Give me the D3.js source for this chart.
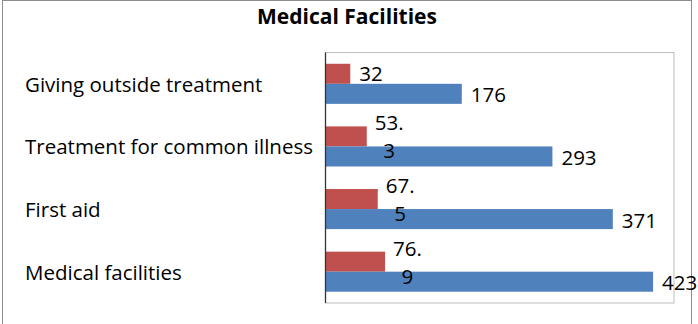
<!DOCTYPE html>
<html>
<head>
<meta charset="utf-8">
<script src="https://cdn.jsdelivr.net/npm/d3@7"></script>
<style>
  html, body { margin: 0; padding: 0; background: #fff; }
  svg { display: block; }
</style>
</head>
<body>
<svg id="chart" width="698" height="324"></svg>
<script>
// Categories, top to bottom
const categories = [
  "Giving outside treatment",
  "Treatment for common illness",
  "First aid",
  "Medical facilities"
];
// Two series per category (red bar above blue bar)
const seriesRed = [32, 53.3, 67.5, 76.9];
const seriesBlue = [176, 293, 371, 423];
const xDomainMax = 450;
const chartTitle = "Medical Facilities";

const svg = d3.select("#chart");
const FONT = "'Open Sans', 'Liberation Sans', sans-serif";

// Outer chart border
svg.append("rect")
  .attr("x", 2.5).attr("y", 0.5)
  .attr("width", 689).attr("height", 330)
  .attr("fill", "#fff")
  .attr("stroke", "#8c8c8c").attr("stroke-width", 1);

// Plot area
const plot = { left: 325.5, right: 674, top: 52.5, bottom: 303 };

const x = d3.scaleLinear().domain([0, xDomainMax]).range([plot.left, plot.right]);
const y = d3.scaleBand().domain(categories)
  .range([plot.top, plot.bottom])
  .paddingInner(0.36).paddingOuter(0.18);
const inner = d3.scaleBand().domain(["red", "blue"]).range([0, y.bandwidth()]);

// Plot area frame (light grey)
svg.append("rect")
  .attr("x", plot.left).attr("y", plot.top)
  .attr("width", plot.right - plot.left).attr("height", plot.bottom - plot.top)
  .attr("fill", "none").attr("stroke", "#bdbdbd").attr("stroke-width", 1);

// Title
svg.append("text")
  .attr("x", 347).attr("y", 24)
  .attr("text-anchor", "middle")
  .attr("font-family", FONT).attr("font-weight", "bold")
  .attr("font-size", 21).attr("fill", "#000")
  .text(chartTitle);

const rows = categories.map((c, i) => ({ cat: c, red: seriesRed[i], blue: seriesBlue[i] }));

// Bars
const g = svg.append("g");
g.selectAll("rect.red").data(rows).join("rect")
  .attr("class", "red")
  .attr("x", x(0))
  .attr("y", d => y(d.cat) + inner("red"))
  .attr("width", d => x(d.red) - x(0))
  .attr("height", inner.bandwidth())
  .attr("fill", "#C0504D");

g.selectAll("rect.blue").data(rows).join("rect")
  .attr("class", "blue")
  .attr("x", x(0))
  .attr("y", d => y(d.cat) + inner("blue"))
  .attr("width", d => x(d.blue) - x(0))
  .attr("height", inner.bandwidth())
  .attr("fill", "#4F81BD");

// Vertical category axis line (labels are drawn separately, left aligned)
const yAxis = d3.axisLeft(y).tickSize(0).tickFormat("");
const axG = svg.append("g").attr("transform", `translate(${plot.left},0)`).call(yAxis);
axG.select(".domain").attr("stroke", "#333").attr("stroke-width", 1.3)
  .attr("d", `M0,${plot.top}V${plot.bottom}`);

// Category labels, left aligned
svg.selectAll("text.cat").data(categories).join("text")
  .attr("class", "cat")
  .attr("x", 25)
  .attr("y", d => y(d) + y.step() * 0.32 + 8)
  .attr("font-family", FONT).attr("font-size", 20.5).attr("fill", "#000")
  .text(d => d);

// Value labels; decimals wrap after the point onto a second line
function drawLabel(value, barEnd, cy) {
  const s = String(value);
  const dot = s.indexOf(".");
  const lines = dot >= 0 ? [s.slice(0, dot + 1), s.slice(dot + 1)] : [s];
  const t = svg.append("text")
    .attr("font-family", FONT).attr("font-size", 20.5).attr("fill", "#000");
  if (lines.length === 1) {
    t.attr("x", barEnd + 9).attr("y", cy + 7.5).text(s);
  } else {
    const w = t.text(lines[0]).node().getComputedTextLength();
    t.text(null).attr("text-anchor", "middle");
    const cx = barEnd + 8 + w / 2;
    lines.forEach((ln, k) => {
      t.append("tspan").attr("x", cx)
        .attr("y", cy + 8 + (k === 0 ? -14 : 14))
        .text(ln);
    });
  }
}
rows.forEach(d => {
  drawLabel(d.red, x(d.red), y(d.cat) + inner("red") + inner.bandwidth() / 2);
});
rows.forEach(d => {
  drawLabel(d.blue, x(d.blue), y(d.cat) + inner("blue") + inner.bandwidth() / 2 + 1);
});
</script>
</body>
</html>
